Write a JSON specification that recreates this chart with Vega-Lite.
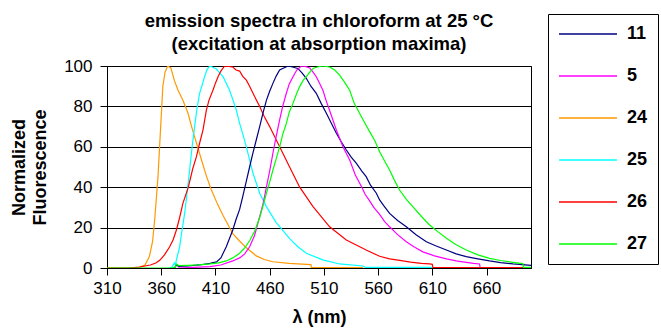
{
  "$schema": "https://vega.github.io/schema/vega-lite/v6.json",
  "width": 424,
  "height": 202,
  "autosize": {"type": "none"},
  "padding": {"left": 107, "top": 66, "right": 130, "bottom": 61},
  "background": "white",
  "config": {
    "font": "Liberation Sans",
    "view": {"stroke": "black", "strokeWidth": 1},
    "axis": {"labelColor": "black", "titleColor": "black", "domainColor": "black", "tickColor": "black", "labelFont": "Liberation Sans", "titleFont": "Liberation Sans"}
  },
  "title": {
    "text": ["emission spectra in chloroform at 25 °C", "(excitation at absorption maxima)"],
    "fontSize": 18.5,
    "fontWeight": "bold",
    "font": "Liberation Sans",
    "lineHeight": 23,
    "offset": -40,
    "anchor": "middle",
    "color": "black"
  },
  "data": {"values": [
    {"s":"24","x":310,"y":0},{"s":"24","x":330,"y":0},{"s":"24","x":340,"y":0.3},{"s":"24","x":345,"y":1.5},{"s":"24","x":349,"y":5.5},{"s":"24","x":352,"y":13},{"s":"24","x":354,"y":24},{"s":"24","x":357,"y":45},{"s":"24","x":359.5,"y":70},{"s":"24","x":361.5,"y":90},{"s":"24","x":363.5,"y":97},{"s":"24","x":366,"y":100},{"s":"24","x":369,"y":99},{"s":"24","x":372,"y":93},{"s":"24","x":375.5,"y":88},{"s":"24","x":380,"y":83},{"s":"24","x":384.7,"y":76.6},{"s":"24","x":388,"y":70},{"s":"24","x":392.4,"y":62},{"s":"24","x":398,"y":52},{"s":"24","x":402,"y":45},{"s":"24","x":406,"y":39},{"s":"24","x":412,"y":31.5},{"s":"24","x":417,"y":26},{"s":"24","x":421,"y":22},{"s":"24","x":426,"y":17},{"s":"24","x":432,"y":13.5},{"s":"24","x":438.5,"y":10},{"s":"24","x":447.7,"y":6},{"s":"24","x":455,"y":4.2},{"s":"24","x":463,"y":3.1},{"s":"24","x":478,"y":2.3},{"s":"24","x":490,"y":1.9},{"s":"24","x":498,"y":1.7},{"s":"24","x":498.5,"y":0.3},{"s":"24","x":546,"y":0.2},

    {"s":"25","x":367,"y":0},{"s":"25","x":370,"y":0.5},{"s":"25","x":372,"y":2.5},{"s":"25","x":373,"y":1.5},{"s":"25","x":374,"y":4},{"s":"25","x":377,"y":10.5},{"s":"25","x":379,"y":18},{"s":"25","x":381.6,"y":27},{"s":"25","x":384,"y":38},{"s":"25","x":386.2,"y":48.5},{"s":"25","x":388.5,"y":60},{"s":"25","x":390.8,"y":70},{"s":"25","x":393,"y":79},{"s":"25","x":395.4,"y":86.5},{"s":"25","x":398,"y":91},{"s":"25","x":400,"y":94.7},{"s":"25","x":402,"y":98},{"s":"25","x":404.7,"y":100},{"s":"25","x":407,"y":99.5},{"s":"25","x":410.9,"y":98.5},{"s":"25","x":414,"y":96.5},{"s":"25","x":417,"y":94.7},{"s":"25","x":420,"y":91.5},{"s":"25","x":423,"y":88},{"s":"25","x":426,"y":83.5},{"s":"25","x":429.3,"y":78},{"s":"25","x":432.3,"y":71.6},{"s":"25","x":435.4,"y":66},{"s":"25","x":438.5,"y":60},{"s":"25","x":441.5,"y":53.5},{"s":"25","x":444.6,"y":47},{"s":"25","x":450.8,"y":37},{"s":"25","x":457,"y":30.4},{"s":"25","x":466,"y":22.5},{"s":"25","x":470,"y":20},{"s":"25","x":478.4,"y":14.5},{"s":"25","x":486,"y":10.5},{"s":"25","x":493.8,"y":7.3},{"s":"25","x":509,"y":4},{"s":"25","x":524.5,"y":2},{"s":"25","x":546,"y":1},{"s":"25","x":548,"y":0.3},{"s":"25","x":610,"y":0.3},

    {"s":"26","x":310,"y":0},{"s":"26","x":330,"y":0},{"s":"26","x":340,"y":0.5},{"s":"26","x":350,"y":1.5},{"s":"26","x":355,"y":2.5},{"s":"26","x":358.6,"y":3.8},{"s":"26","x":363,"y":6.5},{"s":"26","x":367.8,"y":10.5},{"s":"26","x":371,"y":14},{"s":"26","x":374,"y":18.8},{"s":"26","x":377,"y":25},{"s":"26","x":380,"y":32},{"s":"26","x":385,"y":40},{"s":"26","x":389,"y":49},{"s":"26","x":392.4,"y":55},{"s":"26","x":395.5,"y":62},{"s":"26","x":398.5,"y":68.3},{"s":"26","x":401.6,"y":78},{"s":"26","x":404,"y":83},{"s":"26","x":407.7,"y":88},{"s":"26","x":410,"y":91.5},{"s":"26","x":412.4,"y":94.7},{"s":"26","x":415,"y":97.5},{"s":"26","x":418.5,"y":100},{"s":"26","x":422,"y":99.8},{"s":"26","x":426,"y":99.5},{"s":"26","x":429,"y":98},{"s":"26","x":432.3,"y":97.5},{"s":"26","x":435,"y":95},{"s":"26","x":438.5,"y":93},{"s":"26","x":441.5,"y":90},{"s":"26","x":446,"y":85},{"s":"26","x":450.8,"y":80},{"s":"26","x":455,"y":75},{"s":"26","x":460,"y":70},{"s":"26","x":469.2,"y":60},{"s":"26","x":478.4,"y":50},{"s":"26","x":487.7,"y":40},{"s":"26","x":500,"y":30.4},{"s":"26","x":515.3,"y":20.4},{"s":"26","x":530.7,"y":13.9},{"s":"26","x":549,"y":8.9},{"s":"26","x":561.4,"y":5.8},{"s":"26","x":570.6,"y":4.5},{"s":"26","x":580,"y":3.8},{"s":"26","x":590,"y":2.9},{"s":"26","x":600,"y":2.3},{"s":"26","x":607.5,"y":2},{"s":"26","x":610,"y":1.8},{"s":"26","x":610.5,"y":0.2},{"s":"26","x":701,"y":0.2},

    {"s":"11","x":371,"y":0},{"s":"11","x":373,"y":0.5},{"s":"11","x":374,"y":1.5},{"s":"11","x":376,"y":0.8},{"s":"11","x":385,"y":1},{"s":"11","x":395,"y":1.5},{"s":"11","x":405,"y":2.3},{"s":"11","x":411,"y":3},{"s":"11","x":415,"y":5},{"s":"11","x":420,"y":10.5},{"s":"11","x":426,"y":18.8},{"s":"11","x":429,"y":24},{"s":"11","x":432.3,"y":29},{"s":"11","x":435,"y":35},{"s":"11","x":438.5,"y":43},{"s":"11","x":441.5,"y":50},{"s":"11","x":444.6,"y":57},{"s":"11","x":447.7,"y":63.5},{"s":"11","x":450.8,"y":70},{"s":"11","x":454,"y":77},{"s":"11","x":457,"y":83},{"s":"11","x":460,"y":87.5},{"s":"11","x":463,"y":91.4},{"s":"11","x":466,"y":95},{"s":"11","x":469.2,"y":98},{"s":"11","x":473,"y":99},{"s":"11","x":477,"y":100},{"s":"11","x":481,"y":99.5},{"s":"11","x":486,"y":98.8},{"s":"11","x":490,"y":96.5},{"s":"11","x":493.8,"y":93.9},{"s":"11","x":498,"y":90},{"s":"11","x":503,"y":86.5},{"s":"11","x":507.5,"y":81.5},{"s":"11","x":512.3,"y":76.6},{"s":"11","x":517,"y":71.5},{"s":"11","x":521.5,"y":66.7},{"s":"11","x":526,"y":62.5},{"s":"11","x":530.7,"y":58.4},{"s":"11","x":535,"y":55},{"s":"11","x":540,"y":51.8},{"s":"11","x":545,"y":48},{"s":"11","x":549,"y":45.2},{"s":"11","x":553,"y":41},{"s":"11","x":558.4,"y":37},{"s":"11","x":561.4,"y":33.7},{"s":"11","x":565,"y":31},{"s":"11","x":570.6,"y":27},{"s":"11","x":578,"y":23.5},{"s":"11","x":586,"y":20.4},{"s":"11","x":595,"y":16.5},{"s":"11","x":604.5,"y":13},{"s":"11","x":613,"y":11},{"s":"11","x":623,"y":8.9},{"s":"11","x":632,"y":7},{"s":"11","x":641.3,"y":5.6},{"s":"11","x":652,"y":4.5},{"s":"11","x":662.8,"y":3.5},{"s":"11","x":673,"y":2.7},{"s":"11","x":684.3,"y":2},{"s":"11","x":693,"y":1.7},{"s":"11","x":701,"y":1.3},

    {"s":"5","x":375,"y":0},{"s":"5","x":390,"y":0.3},{"s":"5","x":405,"y":0.7},{"s":"5","x":415,"y":1.5},{"s":"5","x":426,"y":3.5},{"s":"5","x":432.3,"y":5},{"s":"5","x":437,"y":7},{"s":"5","x":441.5,"y":10.5},{"s":"5","x":446,"y":16},{"s":"5","x":450.8,"y":25.4},{"s":"5","x":454,"y":32},{"s":"5","x":457,"y":40},{"s":"5","x":460,"y":48},{"s":"5","x":463,"y":56.8},{"s":"5","x":466,"y":65},{"s":"5","x":469.2,"y":73.3},{"s":"5","x":472,"y":80},{"s":"5","x":475.4,"y":86.5},{"s":"5","x":478,"y":91},{"s":"5","x":481.5,"y":94.7},{"s":"5","x":485,"y":98},{"s":"5","x":489.2,"y":100},{"s":"5","x":493,"y":99.8},{"s":"5","x":497,"y":99},{"s":"5","x":500,"y":97},{"s":"5","x":503,"y":94.7},{"s":"5","x":506,"y":91.5},{"s":"5","x":509.1,"y":88},{"s":"5","x":512,"y":83},{"s":"5","x":515.3,"y":78},{"s":"5","x":518.5,"y":73},{"s":"5","x":521.5,"y":68.3},{"s":"5","x":527.6,"y":60},{"s":"5","x":533.8,"y":53.5},{"s":"5","x":539,"y":46},{"s":"5","x":545,"y":40},{"s":"5","x":548,"y":36.5},{"s":"5","x":552.2,"y":33.2},{"s":"5","x":556,"y":30},{"s":"5","x":561.4,"y":26.5},{"s":"5","x":566,"y":23},{"s":"5","x":570.6,"y":20.4},{"s":"5","x":578,"y":16.5},{"s":"5","x":586,"y":13},{"s":"5","x":593,"y":10.5},{"s":"5","x":601.3,"y":8},{"s":"5","x":612,"y":6},{"s":"5","x":623,"y":4.5},{"s":"5","x":632,"y":3.5},{"s":"5","x":641.3,"y":2.8},{"s":"5","x":648,"y":2.3},{"s":"5","x":653.6,"y":2},{"s":"5","x":654,"y":0.3},

    {"s":"27","x":310,"y":0},{"s":"27","x":340,"y":0},{"s":"27","x":370,"y":0},{"s":"27","x":373,"y":0.5},{"s":"27","x":374,"y":2},{"s":"27","x":376,"y":1.2},{"s":"27","x":385,"y":1.3},{"s":"27","x":395,"y":1.5},{"s":"27","x":405,"y":2},{"s":"27","x":413,"y":2.5},{"s":"27","x":420,"y":3.5},{"s":"27","x":426,"y":5},{"s":"27","x":432.3,"y":7.3},{"s":"27","x":437,"y":10},{"s":"27","x":441.5,"y":13.5},{"s":"27","x":446,"y":18},{"s":"27","x":450.8,"y":25},{"s":"27","x":454,"y":31},{"s":"27","x":457,"y":37},{"s":"27","x":460,"y":42.5},{"s":"27","x":463,"y":48.5},{"s":"27","x":466,"y":54},{"s":"27","x":469.2,"y":60},{"s":"27","x":472,"y":66},{"s":"27","x":475.4,"y":71.6},{"s":"27","x":478,"y":77},{"s":"27","x":481.5,"y":81.5},{"s":"27","x":485,"y":86.5},{"s":"27","x":487.7,"y":89.8},{"s":"27","x":491,"y":93},{"s":"27","x":493.8,"y":94.7},{"s":"27","x":497,"y":97},{"s":"27","x":500,"y":98.8},{"s":"27","x":504,"y":99.5},{"s":"27","x":509,"y":100},{"s":"27","x":512,"y":99.8},{"s":"27","x":515.3,"y":99.5},{"s":"27","x":520,"y":98},{"s":"27","x":524.5,"y":95.5},{"s":"27","x":529,"y":92},{"s":"27","x":533.8,"y":88},{"s":"27","x":538,"y":81.5},{"s":"27","x":543,"y":76.5},{"s":"27","x":547.5,"y":72},{"s":"27","x":552.2,"y":67.5},{"s":"27","x":557,"y":63},{"s":"27","x":561.4,"y":57.5},{"s":"27","x":566,"y":53},{"s":"27","x":570.6,"y":48.5},{"s":"27","x":575,"y":43.5},{"s":"27","x":579.8,"y":38.6},{"s":"27","x":586,"y":34},{"s":"27","x":592,"y":30.4},{"s":"27","x":600,"y":25.5},{"s":"27","x":607.5,"y":21.3},{"s":"27","x":615,"y":18},{"s":"27","x":623,"y":14.7},{"s":"27","x":632,"y":11.5},{"s":"27","x":641.3,"y":8.9},{"s":"27","x":652,"y":6.5},{"s":"27","x":662.8,"y":4.8},{"s":"27","x":673,"y":3.7},{"s":"27","x":684.3,"y":2.8},{"s":"27","x":690,"y":2.4},{"s":"27","x":693.5,"y":2.2},{"s":"27","x":694,"y":0.3},{"s":"27","x":701,"y":0.3}
  ]},
  "mark": {"type": "line", "strokeWidth": 1.2, "clip": true},
  "encoding": {
    "x": {
      "field": "x", "type": "quantitative",
      "scale": {"domain": [310, 701], "nice": false, "zero": false},
      "axis": {
        "values": [310, 360, 410, 460, 510, 560, 610, 660],
        "title": "λ (nm)", "titleFontSize": 18, "titleFontWeight": "bold", "titlePadding": 12,
        "labelFontSize": 17, "labelPadding": 5, "tickSize": 7, "grid": false, "labelFlush": false
      }
    },
    "y": {
      "field": "y", "type": "quantitative",
      "scale": {"domain": [0, 100], "nice": false},
      "axis": {
        "values": [0, 20, 40, 60, 80, 100],
        "title": ["Normalized", "Fluorescence"], "titleFontSize": 18, "titleFontWeight": "bold", "titleLineHeight": 21.5, "titlePadding": 14,
        "labelFontSize": 17, "labelPadding": 8, "tickSize": 7,
        "grid": true, "gridColor": "black", "gridOpacity": 1, "gridWidth": 1
      }
    },
    "color": {
      "field": "s", "type": "nominal",
      "scale": {"domain": ["11", "5", "24", "25", "26", "27"], "range": ["#000080", "#FF00FF", "#FF9900", "#00FFFF", "#FF0000", "#00FF00"]},
      "legend": {
        "title": null, "orient": "none", "legendX": 441, "legendY": -52,
        "strokeColor": "black", "fillColor": "white", "padding": 10,
        "symbolType": "stroke", "symbolSize": 3364, "symbolStrokeWidth": 1.5,
        "labelFontSize": 18, "labelFontWeight": "bold", "labelFont": "Liberation Sans", "labelColor": "black", "labelOffset": 9,
        "labelExpr": "datum.label + '            '",
        "clipHeight": 20, "rowPadding": 22
      }
    }
  }
}
